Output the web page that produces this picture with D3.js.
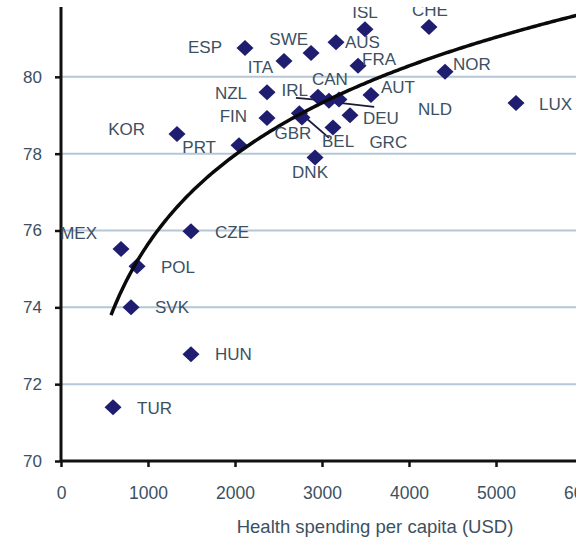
<!DOCTYPE html>
<html>
<head>
<meta charset="utf-8">
<script src="https://cdn.jsdelivr.net/npm/d3@7"></script>
<style>
  body { margin: 0; background: #fff; }
  svg { display: block; }
</style>
</head>
<body>
<div id="chart"></div>
<script>
// country codes, spending per capita (USD) and life expectancy (years)
let codes = ['TUR', 'SVK', 'POL', 'MEX', 'HUN', 'CZE', 'KOR', 'PRT', 'FIN', 'NZL',
  'ESP', 'ITA', 'SWE', 'AUS', 'ISL', 'CHE', 'FRA', 'NOR', 'LUX', 'AUT',
  'IRL', 'CAN', 'NLD', 'GBR', 'GRC', 'DEU', 'BEL', 'DNK']
let spending = [598, 805, 874, 690, 1494, 1494, 1333, 2046, 2368, 2368,
  2115, 2563, 2874, 3161, 3494, 4230, 3414, 4414, 5230, 3563,
  2954, 3080, 3195, 2770, 2740, 3322, 3126, 2920]
let lifeExp = [71.4, 74.0, 75.07, 75.52, 72.78, 75.98, 78.51, 78.22, 78.93, 79.6,
  80.75, 80.41, 80.62, 80.9, 81.24, 81.3, 80.29, 80.13, 79.32, 79.53,
  79.48, 79.38, 79.41, 78.94, 79.05, 79.0, 78.68, 77.9]

let xTicks = [0, 1000, 2000, 3000, 4000, 5000, 6000]
let yTicks = [70, 72, 74, 76, 78, 80, 82]

// logarithmic trend line: y = a + b * ln(x)
let trendA = 52.54
let trendB = 3.345
let trendFrom = 575
let trendTo = 6500

// leader lines from the crowded middle to their labels [x1, y1, x2, y2]
let leaders = [
  [2700, 79.45, 2955, 79.4],
  [3100, 79.35, 3600, 79.22],
  [2780, 79.0, 3080, 78.41]
]

// label placement relative to its point: [dx, dy, anchor]
let labelAt = {
  TUR: [24, 1, 'start'], SVK: [24, 0, 'start'], POL: [24, 1, 'start'],
  MEX: [-24, -16, 'end'], HUN: [24, 0, 'start'], CZE: [24, 1, 'start'],
  KOR: [-32, -5, 'end'], PRT: [-23, 2, 'end'], FIN: [-20, -2, 'end'],
  NZL: [-20, 1, 'end'], ESP: [-23, -1, 'end'], ITA: [-11, 6, 'end'],
  SWE: [-3, -14, 'end'], AUS: [9, 0, 'start'], ISL: [0, -17, 'middle'],
  CHE: [1, -17, 'middle'], FRA: [4, -7, 'start'], NOR: [8, -8, 'start'],
  LUX: [23, 1, 'start'], AUT: [10, -8, 'start'], IRL: [-10, -7, 'end'],
  CAN: [1, -22, 'middle'], NLD: [79, 10, 'start'], GBR: [-9, 15, 'middle'],
  GRC: [70, 29, 'start'], DEU: [13, 3, 'start'], BEL: [-11, 14, 'start'],
  DNK: [-5, 15, 'middle']
}

let width = 576
let height = 544
let left = 61
let bottom = 461

let points = codes.map(function (c, i) {
  return { code: c, x: spending[i], y: lifeExp[i] }
})

let x = d3.scaleLinear().domain([0, 6000]).range([left, 583])
let y = d3.scaleLinear().domain([70, 82]).range([bottom, 0])

let textCol = '#3c5062'
let font = 'Liberation Sans, Arial, sans-serif'

let svg = d3
  .select('#chart')
  .append('svg')
  .attr('width', width)
  .attr('height', height)

svg.append('clipPath')
  .attr('id', 'clip')
  .append('rect')
  .attr('x', 0)
  .attr('y', 7)
  .attr('width', width)
  .attr('height', height - 7)

let g = svg.append('g').attr('clip-path', 'url(#clip)')

// gridlines
g.selectAll('.grid')
  .data(yTicks.filter(function (d) { return d > 70 }))
  .enter()
  .append('line')
  .attr('x1', left)
  .attr('x2', width)
  .attr('y1', function (d) { return y(d) })
  .attr('y2', function (d) { return y(d) })
  .style('stroke', '#b5c7d6')
  .style('stroke-width', 2)

// y axis
let yAxis = g.append('g')
  .attr('transform', 'translate(' + left + ',0)')
  .call(d3.axisLeft(y).tickValues(yTicks).tickSize(6).tickPadding(13))
yAxis.select('.domain').remove()
yAxis.selectAll('line').style('stroke', '#111').style('stroke-width', 2.5)
yAxis.selectAll('text')
  .style('font-family', font)
  .style('font-size', '17px')
  .style('fill', textCol)

// x axis
let xAxis = g.append('g')
  .attr('transform', 'translate(0,' + bottom + ')')
  .call(d3.axisBottom(x).tickValues(xTicks).tickFormat(d3.format('d')).tickSize(6).tickPadding(20))
xAxis.select('.domain').remove()
xAxis.selectAll('line').style('stroke', '#111').style('stroke-width', 2.5)
xAxis.selectAll('text')
  .style('font-family', font)
  .style('font-size', '17.5px')
  .style('fill', textCol)

// axis lines
g.append('line')
  .attr('x1', left).attr('x2', left)
  .attr('y1', 0).attr('y2', bottom)
  .style('stroke', '#111').style('stroke-width', 3)
g.append('line')
  .attr('x1', left).attr('x2', width)
  .attr('y1', bottom).attr('y2', bottom)
  .style('stroke', '#111').style('stroke-width', 3)

// leader lines
g.selectAll('.leader')
  .data(leaders)
  .enter()
  .append('line')
  .attr('x1', function (d) { return x(d[0]) })
  .attr('y1', function (d) { return y(d[1]) })
  .attr('x2', function (d) { return x(d[2]) })
  .attr('y2', function (d) { return y(d[3]) })
  .style('stroke', '#1a1a3a')
  .style('stroke-width', 1.8)

// diamonds
let rx = 8.5
let ry = 8
g.selectAll('.pt')
  .data(points)
  .enter()
  .append('path')
  .attr('d', function (d) {
    let px = x(d.x)
    let py = y(d.y)
    return 'M' + px + ',' + (py - ry) + 'L' + (px + rx) + ',' + py +
      'L' + px + ',' + (py + ry) + 'L' + (px - rx) + ',' + py + 'Z'
  })
  .style('fill', '#1e1d70')

// trend line
let trend = d3.range(trendFrom, trendTo, 25).map(function (v) {
  return [v, trendA + trendB * Math.log(v)]
})
g.append('path')
  .datum(trend)
  .attr('d', d3.line()
    .x(function (d) { return x(d[0]) })
    .y(function (d) { return y(d[1]) }))
  .style('fill', 'none')
  .style('stroke', '#0a0a0a')
  .style('stroke-width', 3.5)

// country labels
g.selectAll('.lbl')
  .data(points)
  .enter()
  .append('text')
  .attr('x', function (d) { return x(d.x) + labelAt[d.code][0] })
  .attr('y', function (d) { return y(d.y) + labelAt[d.code][1] })
  .attr('dy', '0.35em')
  .attr('text-anchor', function (d) { return labelAt[d.code][2] })
  .style('font-family', font)
  .style('font-size', '17px')
  .style('fill', textCol)
  .text(function (d) { return d.code })

// axis title
svg.append('text')
  .attr('x', 375)
  .attr('y', 527)
  .attr('dy', '0.35em')
  .attr('text-anchor', 'middle')
  .style('font-family', font)
  .style('font-size', '18.5px')
  .style('fill', textCol)
  .text('Health spending per capita (USD)')
</script>
</body>
</html>
